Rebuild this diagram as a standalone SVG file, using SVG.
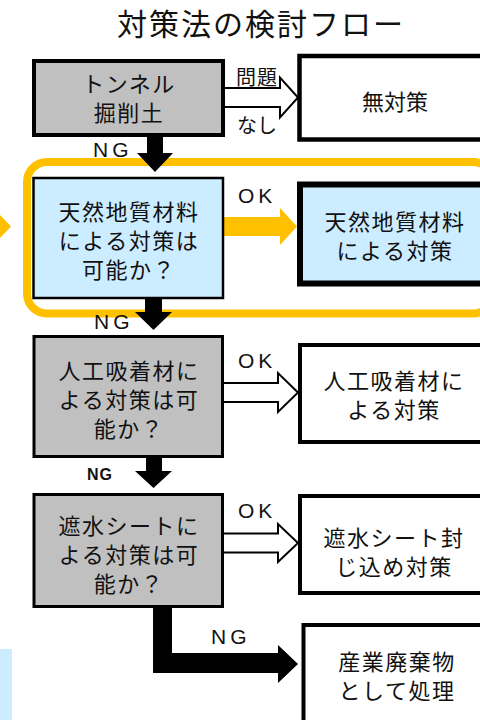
<svg xmlns="http://www.w3.org/2000/svg" width="480" height="720" viewBox="0 0 480 720">
<style>
.t{font-family:"Noto Sans CJK JP","Noto Sans",sans-serif;font-size:22px;fill:#111;text-anchor:middle;letter-spacing:1.5px}
.lbl{font-family:"Liberation Sans","Noto Sans CJK JP",sans-serif;font-size:21px;fill:#111;letter-spacing:4px}
.gray{fill:#c0c0c0;stroke:#000}
.white{fill:#fff;stroke:#000}
.blue{fill:#ccecff;stroke:#000}
.hollow{fill:#fff;stroke:#000;stroke-width:2;stroke-linejoin:miter}
.solid{fill:#000}
.yel{fill:#ffc000}
</style>
<rect width="480" height="720" fill="#fff"/>
<text x="260" y="35" style="font-family:'Noto Sans CJK JP',sans-serif;font-size:30px;fill:#111;text-anchor:middle" textLength="286" lengthAdjust="spacing">対策法の検討フロー</text>

<g id="highlight">
<rect x="27" y="162" width="466" height="151.5" rx="20" fill="none" stroke="#ffc000" stroke-width="8"/>
</g>
<g id="left-fragment">
<rect x="0" y="649" width="12" height="71" fill="#ccecff"/>
<polygon class="yel" points="0,215 11,226.5 0,238"/>
</g>

<g id="connectors">
<polygon class="hollow" points="223,88 280,88 280,77.5 298,97.5 280,117.5 280,107 223,107"/>
<polygon class="yel" points="223,217 280,217 280,208 297,226.5 280,245 280,236 223,236"/>
<polygon class="hollow" points="222,383 278,383 278,373 298,392.5 278,412 278,402 222,402"/>
<polygon class="hollow" points="222,533.5 278,533.5 278,524 298,543 278,562 278,552.5 222,552.5"/>
<polygon class="solid" points="147,136 163,136 163,153 173,153 155,172 137,153 147,153"/>
<polygon class="solid" points="145,298 162,298 162,312 172,312 153.5,330 135,312 145,312"/>
<polygon class="solid" points="146,457 162,457 162,471 172,471 153.5,488 135,471 146,471"/>
<polygon class="solid" points="153,606 172,606 172,653 278,653 278,645 298,664 278,683 278,673 153,673"/>
<text class="lbl" x="236" y="85" style="font-family:'Noto Sans CJK JP',sans-serif;font-size:20px;letter-spacing:1px">問題</text>
<text class="lbl" x="237" y="133" style="font-family:'Noto Sans CJK JP',sans-serif;font-size:20px;letter-spacing:0px">なし</text>
<text class="lbl" x="93" y="157">NG</text>
<text class="lbl" x="238" y="203">OK</text>
<text class="lbl" x="94" y="329">NG</text>
<text class="lbl" x="238" y="368">OK</text>
<text class="lbl" x="87" y="480" style="font-size:16px;font-weight:bold;letter-spacing:1px">NG</text>
<text class="lbl" x="238" y="518">OK</text>
<text class="lbl" x="211" y="644">NG</text>
</g>

<g id="n-tunnel">
<rect class="gray" x="34" y="61" width="189" height="74" stroke-width="4"/>
<text class="t" x="129" y="92">トンネル</text>
<text class="t" x="129" y="121">掘削土</text>
</g>
<g id="n-none">
<rect class="white" x="299.5" y="56" width="195" height="83.5" stroke-width="4.5"/>
<text class="t" x="395" y="110" style="letter-spacing:0px">無対策</text>
</g>
<g id="n-q1">
<rect class="blue" x="33.5" y="178" width="189.5" height="120" stroke-width="2.5"/>
<text class="t" x="129" y="220">天然地質材料</text>
<text class="t" x="129" y="249">による対策は</text>
<text class="t" x="129" y="278">可能か？</text>
</g>
<g id="n-a1">
<rect class="blue" x="300" y="184.5" width="195" height="99" stroke-width="6"/>
<text class="t" x="395" y="230">天然地質材料</text>
<text class="t" x="395" y="259">による対策</text>
</g>
<g id="n-q2">
<rect class="gray" x="34" y="336.5" width="188.5" height="120" stroke-width="3"/>
<text class="t" x="129" y="379">人工吸着材に</text>
<text class="t" x="129" y="408">よる対策は可</text>
<text class="t" x="129" y="437">能か？</text>
</g>
<g id="n-a2">
<rect class="white" x="300" y="345" width="195" height="97" stroke-width="4"/>
<text class="t" x="394" y="389">人工吸着材に</text>
<text class="t" x="394" y="418">よる対策</text>
</g>
<g id="n-q3">
<rect class="gray" x="34" y="494.5" width="188.5" height="112" stroke-width="3"/>
<text class="t" x="129" y="534">遮水シートに</text>
<text class="t" x="129" y="563">よる対策は可</text>
<text class="t" x="129" y="592">能か？</text>
</g>
<g id="n-a3">
<rect class="white" x="300" y="496" width="195" height="97" stroke-width="4"/>
<text class="t" x="394" y="546">遮水シート封</text>
<text class="t" x="394" y="575">じ込め対策</text>
</g>
<g id="n-a4">
<rect class="white" x="303.5" y="625" width="195" height="110" stroke-width="4"/>
<text class="t" x="397" y="670">産業廃棄物</text>
<text class="t" x="397" y="699">として処理</text>
</g>
</svg>
